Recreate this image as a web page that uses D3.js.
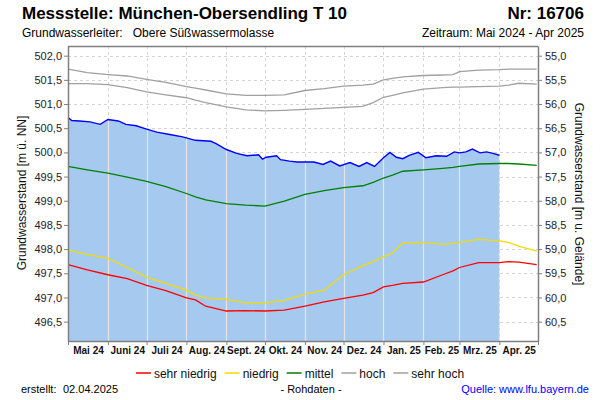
<!DOCTYPE html>
<html><head><meta charset="utf-8">
<script src="https://cdn.jsdelivr.net/npm/d3@7"></script>
<style>
body{margin:0;background:#fff}
svg{display:block;font-family:"Liberation Sans",Arial,sans-serif}
</style>
</head><body>
<svg id="c" width="600" height="400"></svg>
<script>
// ---------- data ----------
const blueDates = ["2024-05-01","2024-05-04","2024-05-10","2024-05-18","2024-05-26","2024-06-01","2024-06-09","2024-06-15","2024-06-23","2024-07-01","2024-07-09","2024-07-19","2024-07-29","2024-08-08","2024-08-20","2024-08-24","2024-09-01","2024-09-09","2024-09-17","2024-09-26","2024-09-29","2024-10-02","2024-10-10","2024-10-13","2024-10-20","2024-10-26","2024-11-04","2024-11-08","2024-11-15","2024-11-21","2024-11-28","2024-12-06","2024-12-13","2024-12-19","2024-12-25","2025-01-01","2025-01-06","2025-01-11","2025-01-16","2025-01-21","2025-01-28","2025-02-03","2025-02-11","2025-02-19","2025-02-25","2025-03-01","2025-03-06","2025-03-11","2025-03-17","2025-03-22","2025-03-27","2025-04-01"];
const blueValues = [500.72,500.66,500.65,500.63,500.58,500.68,500.65,500.58,500.55,500.48,500.42,500.37,500.32,500.25,500.23,500.18,500.06,499.98,499.93,499.95,499.86,499.90,499.93,499.85,499.82,499.80,499.80,499.80,499.75,499.82,499.72,499.79,499.71,499.79,499.71,499.89,500.00,499.90,499.87,499.94,500.00,499.89,499.93,499.92,500.01,499.99,500.01,500.07,499.99,500.01,499.98,499.94];

const refDates = ["2024-05-01","2024-05-16","2024-06-01","2024-06-16","2024-07-01","2024-07-16","2024-08-01","2024-08-08","2024-08-16","2024-09-01","2024-09-16","2024-10-01","2024-10-16","2024-11-01","2024-11-16","2024-12-01","2024-12-16","2024-12-24","2025-01-01","2025-01-08","2025-01-16","2025-02-01","2025-02-16","2025-02-24","2025-03-01","2025-03-16","2025-04-01","2025-04-08","2025-04-16","2025-04-30"];
const sehrHoch    = [501.72,501.65,501.61,501.58,501.51,501.45,501.36,501.33,501.29,501.21,501.18,501.18,501.19,501.28,501.32,501.37,501.39,501.41,501.50,501.53,501.56,501.59,501.60,501.61,501.67,501.70,501.71,501.72,501.72,501.72];
const hoch        = [501.42,501.42,501.40,501.34,501.25,501.19,501.13,501.08,501.03,500.94,500.88,500.86,500.87,500.89,500.91,500.93,500.95,501.03,501.14,501.18,501.23,501.31,501.34,501.35,501.35,501.36,501.37,501.39,501.43,501.41];
const mittel      = [499.71,499.64,499.57,499.49,499.40,499.29,499.15,499.08,499.02,498.94,498.91,498.89,498.99,499.13,499.21,499.27,499.31,499.38,499.47,499.53,499.61,499.64,499.67,499.69,499.71,499.76,499.77,499.77,499.76,499.73];
const niedrig     = [497.98,497.89,497.81,497.62,497.42,497.29,497.15,497.05,496.99,496.96,496.89,496.89,496.94,497.07,497.15,497.47,497.66,497.74,497.84,497.92,498.13,498.14,498.10,498.12,498.14,498.20,498.17,498.14,498.06,497.96];
const sehrNiedrig = [497.68,497.57,497.47,497.39,497.25,497.14,496.99,496.95,496.82,496.72,496.73,496.72,496.74,496.82,496.91,496.98,497.05,497.10,497.22,497.25,497.29,497.32,497.47,497.55,497.62,497.72,497.72,497.74,497.73,497.68];

const monthLabels = ["Mai 24","Juni 24","Juli 24","Aug. 24","Sept. 24","Okt. 24","Nov. 24","Dez. 24","Jan. 25","Feb. 25","Mrz. 25","Apr. 25"];
const leftTicks  = [496.5,497.0,497.5,498.0,498.5,499.0,499.5,500.0,500.5,501.0,501.5,502.0];
const rightTicks = [55.0,55.5,56.0,56.5,57.0,57.5,58.0,58.5,59.0,59.5,60.0,60.5];
const groundLevel = 557.0;

const legendLabels = ["sehr niedrig","niedrig","mittel","hoch","sehr hoch"];
const legendColors = ["#ff0000","#f2dc00","#008000","#a0a0a0","#a0a0a0"];

// ---------- setup ----------
const svg = d3.select("#c");
const L = 68, R = 538, T = 46, B = 341;
const parse = d3.timeParse("%Y-%m-%d");
const start = parse("2024-05-01"), end = parse("2025-05-01");
const x = d3.scaleTime().domain([start, end]).range([L, R]);
const y = d3.scaleLinear().domain([496.1, 502.2]).range([B, T]);
const y2 = d3.scaleLinear().domain([groundLevel - 496.1, groundLevel - 502.2]).range([B, T]);
const fmt = v => d3.format(".1f")(v).replace(".", ",");

const blue = blueDates.map((d,i)=>({d:parse(d), v:blueValues[i]}));
const refD = refDates.map(parse);
const series = [
  {vals:sehrNiedrig, color:legendColors[0]},
  {vals:niedrig, color:legendColors[1]},
  {vals:mittel, color:legendColors[2]},
  {vals:hoch, color:legendColors[3]},
  {vals:sehrHoch, color:legendColors[4]}
];

const monthStarts = d3.timeMonth.range(start, end);
const boundaries = monthStarts.slice(1);
const mids = monthStarts.map(m => new Date((+m + +d3.timeMonth.offset(m,1))/2));

// ---------- grid (dashed) ----------
const grid = svg.append("g");
grid.selectAll("line.h").data(leftTicks).join("line")
  .attr("x1", L).attr("x2", R).attr("y1", d=>Math.round(y(d))+0.5).attr("y2", d=>Math.round(y(d))+0.5)
  .attr("stroke","#d4d4d4").attr("stroke-dasharray","3,3");
grid.selectAll("line.v").data(boundaries).join("line")
  .attr("x1", d=>Math.round(x(d))+0.5).attr("x2", d=>Math.round(x(d))+0.5).attr("y1", T).attr("y2", B)
  .attr("stroke","#d4d4d4").attr("stroke-dasharray","3,3");

// ---------- area ----------
const area = d3.area().x(d=>x(d.d)).y0(B).y1(d=>y(d.v));
svg.append("defs").append("clipPath").attr("id","ac").append("path").attr("d", area(blue));
svg.append("path").attr("d", area(blue)).attr("fill","#a6c9ef");
svg.append("g").attr("clip-path","url(#ac)")
  .selectAll("line").data(boundaries).join("line")
  .attr("x1", d=>Math.round(x(d))+0.5).attr("x2", d=>Math.round(x(d))+0.5).attr("y1", T).attr("y2", B)
  .attr("stroke","#e4e4e4").attr("stroke-width",1.2);

// ---------- reference lines ----------
const refLine = d3.line().x((v,i)=>x(refD[i])).y(v=>y(v));
svg.append("g").selectAll("path").data(series).join("path")
  .attr("d", s=>refLine(s.vals)).attr("fill","none")
  .attr("stroke", s=>s.color).attr("stroke-width",1.3);

// ---------- measured line ----------
svg.append("path").attr("d", d3.line().x(d=>x(d.d)).y(d=>y(d.v))(blue))
  .attr("fill","none").attr("stroke","#0000ff").attr("stroke-width",1.4);

// ---------- axes ----------
const axisColor = "#808080";
const ax = svg.append("g").attr("font-family",'"Liberation Sans",Arial,sans-serif');
const la = ax.append("g").attr("transform",`translate(${L},0)`)
  .call(d3.axisLeft(y).tickValues(leftTicks).tickFormat(fmt).tickSize(4).tickPadding(2).tickSizeOuter(0));
const ra = ax.append("g").attr("transform",`translate(${R},0)`)
  .call(d3.axisRight(y2).tickValues(rightTicks).tickFormat(fmt).tickSize(4).tickPadding(3).tickSizeOuter(0));
const ba = ax.append("g").attr("transform",`translate(0,${B})`)
  .call(d3.axisBottom(x).tickValues(monthStarts.concat([end])).tickFormat("").tickSize(4).tickSizeOuter(0));
const bl = ax.append("g").attr("transform",`translate(0,${B})`)
  .call(d3.axisBottom(x).tickValues(mids).tickFormat((d,i)=>monthLabels[i]).tickSize(0).tickPadding(6));
bl.select(".domain").remove();
[la,ra,ba].forEach(g=>{g.select(".domain").attr("stroke",axisColor).attr("stroke-width",1.5);
  g.selectAll(".tick line").attr("stroke",axisColor);});
la.selectAll("text").attr("font-size",11).attr("fill","#222");
ra.selectAll("text").attr("font-size",11).attr("fill","#222");
bl.selectAll("text").attr("font-size",10).attr("font-weight","bold").attr("fill","#111");
// top border
svg.append("line").attr("x1",L).attr("x2",R).attr("y1",T+0.5).attr("y2",T+0.5).attr("stroke",axisColor).attr("stroke-width",1.5);

// axis titles
svg.append("text").attr("transform","translate(26,193) rotate(-90)").attr("text-anchor","middle")
  .attr("font-size",12).attr("fill","#111").text("Grundwasserstand [m ü. NN]");
svg.append("text").attr("transform","translate(575,194) rotate(90)").attr("text-anchor","middle")
  .attr("font-size",12).attr("fill","#111").text("Grundwasserstand [m u. Gelände]");

// ---------- header ----------
svg.append("text").attr("x",22).attr("y",19).attr("font-size",17).attr("font-weight","bold").attr("fill","#000")
  .text("Messstelle: München-Obersendling T 10");
svg.append("text").attr("x",584).attr("y",19).attr("text-anchor","end").attr("font-size",17).attr("font-weight","bold").attr("fill","#000")
  .text("Nr: 16706");
const sub1 = svg.append("text").attr("x",22).attr("y",37).attr("font-size",12).attr("fill","#000").text("Grundwasserleiter:");
svg.append("text").attr("x",22 + sub1.node().getComputedTextLength() + 10).attr("y",37).attr("font-size",12).attr("fill","#000").text("Obere Süßwassermolasse");
svg.append("text").attr("x",584).attr("y",37).attr("text-anchor","end").attr("font-size",12).attr("fill","#000")
  .text("Zeitraum: Mai 2024 - Apr 2025");

// ---------- legend ----------
const lg = svg.append("g");
let lx = 0;
legendLabels.forEach((t,i)=>{
  const g = lg.append("g");
  g.append("line").attr("x1",0).attr("x2",15).attr("y1",0).attr("y2",0).attr("stroke",legendColors[i]).attr("stroke-width",1.5);
  const tx = g.append("text").attr("x",18).attr("y",4.5).attr("font-size",12).attr("fill","#111").text(t);
  const w = 18 + tx.node().getComputedTextLength();
  g.attr("transform",`translate(${lx},0)`);
  lx += w + 8;
});
const totalW = lx - 8;
lg.attr("transform",`translate(${300 - totalW/2},373)`);

// ---------- footer ----------
svg.append("text").attr("x",21).attr("y",393).attr("font-size",11).attr("fill","#000").text("erstellt:");
svg.append("text").attr("x",63).attr("y",393).attr("font-size",11).attr("fill","#000").text("02.04.2025");
svg.append("text").attr("x",311).attr("y",393).attr("text-anchor","middle").attr("font-size",11).attr("fill","#000").text("- Rohdaten -");
svg.append("text").attr("x",589).attr("y",393).attr("text-anchor","end").attr("font-size",11).attr("fill","#0000ff").text("Quelle: www.lfu.bayern.de");
</script>
</body></html>
